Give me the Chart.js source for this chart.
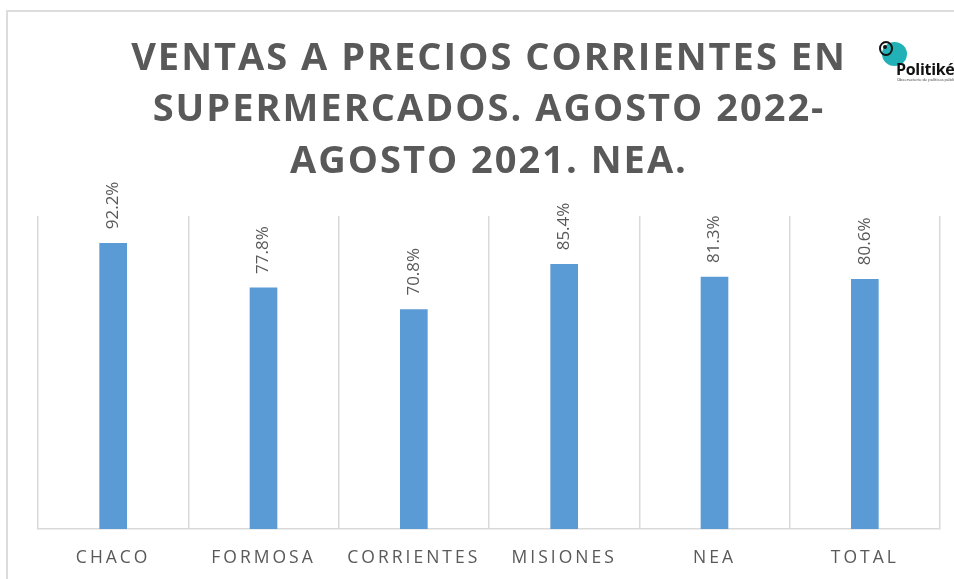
<!DOCTYPE html>
<html>
<head>
<meta charset="utf-8">
<script src="https://cdn.jsdelivr.net/npm/chart.js@4"></script>
<style>
  html, body { margin: 0; padding: 0; background: #fff; }
  #wrap { position: relative; width: 954px; height: 579px; overflow: hidden; }
  #frame { position: absolute; left: 6px; top: 10px; width: 1000px; height: 700px;
           border-left: 2px solid #dcdcdc; border-top: 2px solid #dcdcdc; }
  canvas { position: absolute; left: 0; top: 0; }
  #logo { position: absolute; left: 872px; top: 34px; width: 82px; height: 56px; font-family: "Open Sans", sans-serif; }
  #logo .disc { position: absolute; left: 10px; top: 8px; width: 25px; height: 24px; border-radius: 50%; background: #22b1b6; }
  #logo .ring { position: absolute; left: 7px; top: 7px; width: 10px; height: 11px; border-radius: 50%; border: 2px solid #111; }
  #logo .dot { position: absolute; left: 11px; top: 11px; width: 4px; height: 4px; border-radius: 50%; background: #111; }
  #logo .name { position: absolute; left: 24px; top: 27px; font-size: 16px; line-height: 16px; font-weight: bold; color: #111; letter-spacing: -0.3px; }
  #logo .sub { position: absolute; left: 25px; top: 43px; font-size: 4px; color: #333; white-space: nowrap; }
</style>
</head>
<body>
<div id="wrap">
  <div id="frame"></div>
  <canvas id="chart" width="954" height="579"></canvas>
  <div id="logo">
    <div class="disc"></div>
    <div class="ring"></div>
    <div class="dot"></div>
    <div class="name">Politiké</div>
    <div class="sub">Observatorio de políticas públicas</div>
  </div>
</div>
<script>
// Ventas en supermercados, variación interanual
const regiones = ['CHACO', 'FORMOSA', 'CORRIENTES', 'MISIONES', 'NEA', 'TOTAL'];
const variacion = [92.2, 77.8, 70.8, 85.4, 81.3, 80.6];
const tituloLineas = [
    'VENTAS A PRECIOS CORRIENTES EN',
    'SUPERMERCADOS. AGOSTO 2022-',
    'AGOSTO 2021. NEA.'
];

const gris = '#595959';

// titulo con espaciado entre letras
const tituloPlugin = {
    id: 'tituloPlugin',
    afterDraw(chart) {
        const ctx = chart.ctx;
        const cx = (chart.chartArea.left + chart.chartArea.right) / 2;
        ctx.save();
        ctx.font = 'bold 38px "Open Sans"';
        ctx.fillStyle = gris;
        ctx.textAlign = 'center';
        ctx.textBaseline = 'middle';
        ctx.letterSpacing = '2px';
        tituloLineas.forEach((linea, i) => {
            ctx.fillText(linea, cx, 59 + i * 51.5);
        });
        ctx.restore();
    }
};

// etiquetas de valor, giradas
const etiquetasPlugin = {
    id: 'etiquetasPlugin',
    afterDatasetsDraw(chart) {
        const ctx = chart.ctx;
        const meta = chart.getDatasetMeta(0);
        ctx.save();
        ctx.font = '17px "Open Sans"';
        ctx.fillStyle = gris;
        ctx.textAlign = 'left';
        ctx.textBaseline = 'middle';
        meta.data.forEach((bar, i) => {
            ctx.save();
            ctx.translate(bar.x, bar.y - 14);
            ctx.rotate(-Math.PI / 2);
            ctx.fillText(variacion[i].toFixed(1) + '%', 0, 0);
            ctx.restore();
        });
        ctx.restore();
    }
};

// espaciado en las etiquetas del eje
const ejePlugin = {
    id: 'ejePlugin',
    beforeDraw(chart) { chart.ctx.letterSpacing = '3px'; },
    beforeDatasetsDraw(chart) { chart.ctx.letterSpacing = '0px'; }
};

new Chart(document.getElementById('chart'), {
    type: 'bar',
    data: {
        labels: regiones,
        datasets: [{
            data: variacion,
            backgroundColor: '#5b9bd5',
            barThickness: 27
        }]
    },
    options: {
        responsive: false,
        animation: false,
        layout: { padding: { left: 38, right: 14, top: 216, bottom: 0 } },
        plugins: {
            legend: { display: false },
            tooltip: { enabled: false }
        },
        scales: {
            x: {
                grid: { color: '#d9d9d9', lineWidth: 1.5, drawTicks: false, offset: true },
                border: { color: '#d9d9d9', width: 1.5 },
                ticks: {
                    color: gris,
                    font: { family: '"Open Sans"', size: 17.5 },
                    padding: 19,
                    maxRotation: 0,
                    autoSkip: false
                },
                afterFit(scale) { scale.height = 50; }
            },
            y: {
                display: false,
                min: 0,
                max: 101
            }
        }
    },
    plugins: [ejePlugin, tituloPlugin, etiquetasPlugin]
});
</script>
</body>
</html>
